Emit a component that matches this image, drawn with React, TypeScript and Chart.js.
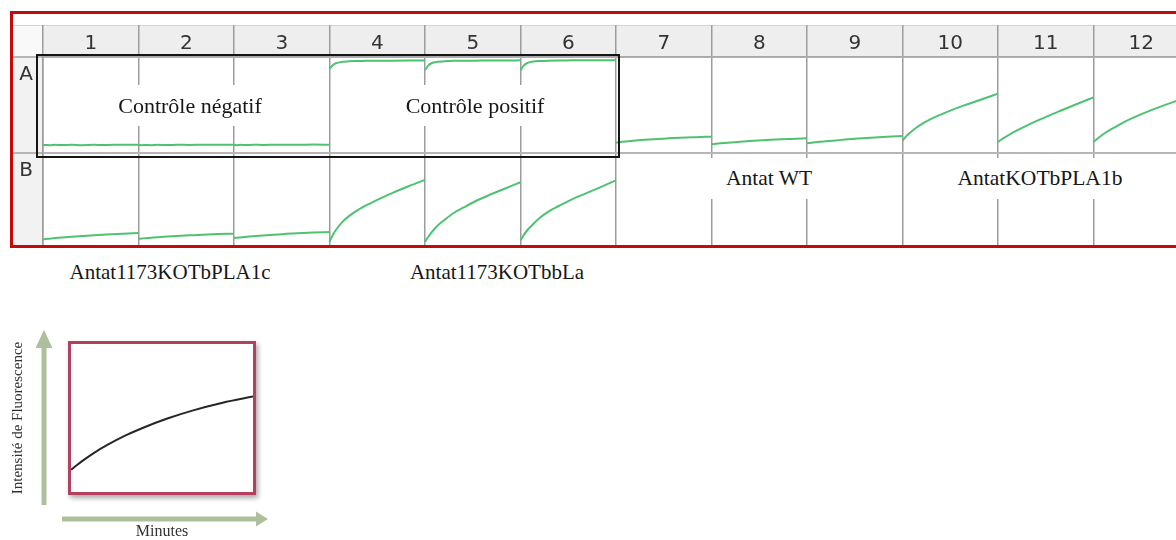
import React, { useEffect, useRef } from 'react';
import { Chart, registerables } from 'chart.js';

Chart.register(...registerables);

// ---- plate layout ----
const colLabels = ['1', '2', '3', '4', '5', '6', '7', '8', '9', '10', '11', '12'];
const rowLabels = ['A', 'B'];
const rowSpan = 100; // fluorescence units per well panel

// ---- reading times (minutes) ----
const minutes = [0, 1, 2, 4, 6, 9, 12, 16, 20, 25, 30];

// ---- well readings (relative fluorescence, 0-100 per panel) ----
const wellA1 = [8.2, 8.4, 8.1, 8.5, 8.3, 8.6, 8.2, 8.5, 8.4, 8.6, 8.5];
const wellA2 = [8.3, 8.1, 8.4, 8.2, 8.5, 8.3, 8.6, 8.4, 8.7, 8.5, 8.6];
const wellA3 = [8.4, 8.2, 8.5, 8.3, 8.6, 8.4, 8.5, 8.7, 8.5, 8.8, 8.6];
const wellA4 = [87.5, 91.5, 93.5, 95.0, 95.5, 95.8, 96.0, 96.0, 96.2, 96.3, 96.3];
const wellA5 = [86.5, 91.0, 93.5, 95.0, 95.5, 96.0, 96.2, 96.2, 96.4, 96.4, 96.5];
const wellA6 = [86.0, 91.0, 93.5, 95.2, 95.8, 96.2, 96.4, 96.5, 96.6, 96.7, 96.7];
const wellA7 = [10.7, 11.2, 11.6, 12.3, 12.9, 13.7, 14.4, 15.2, 15.9, 16.5, 17.0];
const wellA8 = [9.0, 9.4, 9.8, 10.4, 10.9, 11.7, 12.4, 13.2, 14.0, 14.7, 15.3];
const wellA9 = [10.1, 10.5, 10.9, 11.6, 12.2, 13.1, 14.0, 15.0, 15.9, 16.9, 17.7];
const wellA10 = [13.0, 16.8, 20.0, 25.5, 30.0, 35.5, 40.0, 45.5, 50.3, 56.0, 61.8];
const wellA11 = [11.5, 13.8, 16.0, 20.0, 23.6, 28.6, 33.2, 39.0, 44.5, 51.3, 58.0];
const wellA12 = [11.5, 14.3, 17.0, 21.6, 25.6, 31.2, 36.0, 41.8, 47.0, 53.0, 58.5];
const wellB1 = [10.1, 10.4, 10.8, 11.4, 12.0, 12.8, 13.5, 14.4, 15.2, 16.0, 16.7];
const wellB2 = [10.7, 10.9, 11.2, 11.7, 12.2, 12.9, 13.5, 14.2, 14.9, 15.5, 15.9];
const wellB3 = [11.5, 11.8, 12.1, 12.7, 13.3, 14.1, 14.8, 15.7, 16.5, 17.2, 17.7];
const wellB4 = [7.6, 14.3, 19.8, 28.0, 34.0, 40.8, 46.3, 52.8, 58.8, 65.6, 72.0];
const wellB5 = [7.6, 12.5, 17.0, 24.5, 30.0, 37.5, 43.0, 50.0, 56.0, 62.8, 69.5];
const wellB6 = [9.0, 14.5, 19.0, 26.0, 32.3, 39.5, 44.8, 51.5, 57.2, 64.2, 71.5];

// ---- example curve of the legend inset ----
const exampleCurve = [15, 18.3, 21.4, 27.0, 31.8, 38.2, 43.6, 49.8, 55.0, 60.3, 64.5];

const plateWells = [
  { row: 'A', col: '1', values: wellA1 },
  { row: 'A', col: '2', values: wellA2 },
  { row: 'A', col: '3', values: wellA3 },
  { row: 'A', col: '4', values: wellA4 },
  { row: 'A', col: '5', values: wellA5 },
  { row: 'A', col: '6', values: wellA6 },
  { row: 'A', col: '7', values: wellA7 },
  { row: 'A', col: '8', values: wellA8 },
  { row: 'A', col: '9', values: wellA9 },
  { row: 'A', col: '10', values: wellA10 },
  { row: 'A', col: '11', values: wellA11 },
  { row: 'A', col: '12', values: wellA12 },
  { row: 'B', col: '1', values: wellB1 },
  { row: 'B', col: '2', values: wellB2 },
  { row: 'B', col: '3', values: wellB3 },
  { row: 'B', col: '4', values: wellB4 },
  { row: 'B', col: '5', values: wellB5 },
  { row: 'B', col: '6', values: wellB6 },
];

const GREEN = '#4fc272';
const SERIF = '"Liberation Serif", "Times New Roman", serif';

const plateBackground = {
  id: 'plateBackground',
  beforeDraw(chart: any) {
    const { ctx, chartArea: ca, width, height } = chart;
    ctx.save();
    ctx.fillStyle = '#ffffff';
    ctx.fillRect(0, 0, width, height);
    ctx.fillStyle = '#eeeeee';
    ctx.fillRect(ca.left, 0, width - ca.left, ca.top);
    ctx.fillStyle = '#f2f2f2';
    ctx.fillRect(0, ca.top, ca.left, height - ca.top);
    ctx.fillStyle = '#f9f9f9';
    ctx.fillRect(0, 0, ca.left, ca.top);
    ctx.strokeStyle = '#d4d4d4';
    ctx.lineWidth = 1;
    ctx.beginPath();
    ctx.moveTo(0, 0.5);
    ctx.lineTo(width, 0.5);
    ctx.stroke();
    ctx.restore();
  },
};

function PlateChart() {
  const ref = useRef<HTMLCanvasElement>(null);
  useEffect(() => {
    const lastMinute = minutes[minutes.length - 1];
    const datasets = plateWells.map((w) => {
      const col = colLabels.indexOf(w.col);
      const base = (rowLabels.length - 1 - rowLabels.indexOf(w.row)) * rowSpan;
      return {
        label: w.row + w.col,
        data: w.values.map((v, i) => ({ x: col + minutes[i] / lastMinute, y: base + v })),
        borderColor: GREEN,
        borderWidth: 2,
        pointRadius: 0,
        fill: false,
        cubicInterpolationMode: 'monotone' as const,
      };
    });
    const chart = new Chart(ref.current as HTMLCanvasElement, {
      type: 'line',
      data: { datasets },
      options: {
        responsive: false,
        animation: false,
        layout: { padding: 0 },
        plugins: { legend: { display: false }, tooltip: { enabled: false } },
        scales: {
          x: {
            type: 'linear',
            position: 'top',
            min: 0,
            max: colLabels.length,
            afterFit: (s: any) => { s.height = 32; },
            ticks: {
              stepSize: 1,
              autoSkip: false,
              maxRotation: 0,
              labelOffset: 47.75,
              padding: -30.5,
              color: '#333333',
              font: { family: '"DejaVu Sans", sans-serif', size: 20 },
              callback: (v: any) => (v < colLabels.length ? colLabels[v] : null),
            },
            grid: { color: '#9c9c9c', lineWidth: 1.5, tickLength: 32, drawTicks: true },
            border: { color: '#a8a8a8', width: 1.5 },
          },
          y: {
            type: 'linear',
            position: 'left',
            min: 0,
            max: rowLabels.length * rowSpan,
            afterFit: (s: any) => { s.width = 30; },
            ticks: {
              stepSize: rowSpan,
              autoSkip: false,
              labelOffset: 18,
              padding: -20,
              color: '#333333',
              font: { family: '"DejaVu Sans", sans-serif', size: 20 },
              callback: (v: any) => {
                const r = rowLabels.length - v / rowSpan;
                return r >= 0 && r < rowLabels.length ? rowLabels[r] : null;
              },
            },
            grid: { color: '#b6b6b6', lineWidth: 2, tickLength: 30, drawTicks: true },
            border: { color: '#9c9c9c', width: 1.5 },
          },
        },
      },
      plugins: [plateBackground],
    });
    return () => chart.destroy();
  }, []);
  return (
    <canvas
      ref={ref}
      width={1176}
      height={224}
      style={{ position: 'absolute', left: 0, top: 11, width: 1176, height: 224 }}
    />
  );
}

const insetArrows = {
  id: 'insetArrows',
  afterDraw(chart: any) {
    const { ctx, chartArea: ca } = chart;
    ctx.save();
    ctx.fillStyle = '#aebf9d';
    // vertical arrow (fluorescence)
    const vx = ca.left - 27;
    ctx.fillRect(vx - 2.5, ca.top + 3, 5, ca.bottom + 13 - (ca.top + 3));
    ctx.beginPath();
    ctx.moveTo(vx - 8.5, ca.top + 4);
    ctx.lineTo(vx + 8.5, ca.top + 4);
    ctx.lineTo(vx, ca.top - 14);
    ctx.closePath();
    ctx.fill();
    // horizontal arrow (time)
    const hy = ca.bottom + 27;
    ctx.fillRect(ca.left - 9, hy - 2.5, ca.right + 4 - (ca.left - 9), 5);
    ctx.beginPath();
    ctx.moveTo(ca.right + 3, hy - 7.5);
    ctx.lineTo(ca.right + 3, hy + 7.5);
    ctx.lineTo(ca.right + 15, hy);
    ctx.closePath();
    ctx.fill();
    ctx.restore();
  },
};

function InsetChart() {
  const ref = useRef<HTMLCanvasElement>(null);
  useEffect(() => {
    const chart = new Chart(ref.current as HTMLCanvasElement, {
      type: 'line',
      data: {
        datasets: [
          {
            label: 'Fluorescence',
            data: exampleCurve.map((v, i) => ({ x: minutes[i], y: v })),
            borderColor: '#262626',
            borderWidth: 2,
            pointRadius: 0,
            fill: false,
            cubicInterpolationMode: 'monotone' as const,
          },
        ],
      },
      options: {
        responsive: false,
        animation: false,
        layout: { padding: { top: 24, right: 37, left: 0, bottom: 0 } },
        plugins: { legend: { display: false }, tooltip: { enabled: false } },
        scales: {
          x: {
            type: 'linear',
            min: 0,
            max: minutes[minutes.length - 1],
            afterFit: (s: any) => { s.height = 48; },
            ticks: { display: false },
            grid: { display: false },
            border: { display: false },
            title: {
              display: true,
              text: 'Minutes',
              color: '#333333',
              font: { family: SERIF, size: 16, lineHeight: 1 },
              padding: 0,
            },
          },
          y: {
            type: 'linear',
            min: 0,
            max: 100,
            afterFit: (s: any) => { s.width = 71; },
            ticks: { display: false },
            grid: { display: false },
            border: { display: false },
            title: {
              display: true,
              text: 'Intensité de Fluorescence',
              color: '#333333',
              font: { family: SERIF, size: 15 },
              padding: { top: 9.5, bottom: 0 },
            },
          },
        },
      },
      plugins: [insetArrows],
    });
    return () => chart.destroy();
  }, []);
  return (
    <canvas
      ref={ref}
      width={290}
      height={220}
      style={{ position: 'absolute', left: 0, top: 320, width: 290, height: 220 }}
    />
  );
}

function Label(props: { text: string; left: number; top: number; width: number; height: number; size?: number; bg?: boolean }) {
  const { text, left, top, width, height, size = 22, bg = true } = props;
  return (
    <div
      style={{
        position: 'absolute',
        left,
        top,
        width,
        height,
        background: bg ? '#ffffff' : 'transparent',
        display: 'flex',
        alignItems: 'center',
        justifyContent: 'center',
        fontFamily: SERIF,
        fontSize: size,
        lineHeight: 1,
        color: '#161616',
        whiteSpace: 'nowrap',
      }}
    >
      {text}
    </div>
  );
}

export default function App() {
  return (
    <div
      style={{
        position: 'absolute',
        left: 0,
        top: 0,
        width: 1176,
        height: 540,
        overflow: 'hidden',
        background: '#ffffff',
      }}
    >
      <div
        style={{
          position: 'absolute',
          left: 10,
          top: 11,
          width: 1210,
          height: 237,
          border: '3px solid #c40a0a',
          boxSizing: 'border-box',
          overflow: 'hidden',
          background: '#ffffff',
        }}
      >
        <PlateChart />
      </div>
      <div
        style={{
          position: 'absolute',
          left: 36,
          top: 54,
          width: 584,
          height: 104,
          border: '2px solid #151515',
          boxSizing: 'border-box',
        }}
      />
      <Label text="Contrôle négatif" left={100} top={85} width={180} height={41} />
      <Label text="Contrôle positif" left={395} top={85} width={160} height={41} />
      <Label text="Antat WT" left={705} top={158} width={128} height={41} size={21.5} />
      <Label text="AntatKOTbPLA1b" left={945} top={158} width={190} height={41} size={21.5} />
      <Label text="Antat1173KOTbPLA1c" left={60} top={257} width={220} height={30} size={21} bg={false} />
      <Label text="Antat1173KOTbbLa" left={400} top={257} width={194} height={30} size={21} bg={false} />
      <InsetChart />
      <div
        style={{
          position: 'absolute',
          left: 68,
          top: 341,
          width: 188,
          height: 154,
          border: '3px solid #b3405f',
          boxSizing: 'border-box',
          boxShadow: '2px 3px 5px rgba(0,0,0,0.35)',
        }}
      />
    </div>
  );
}
